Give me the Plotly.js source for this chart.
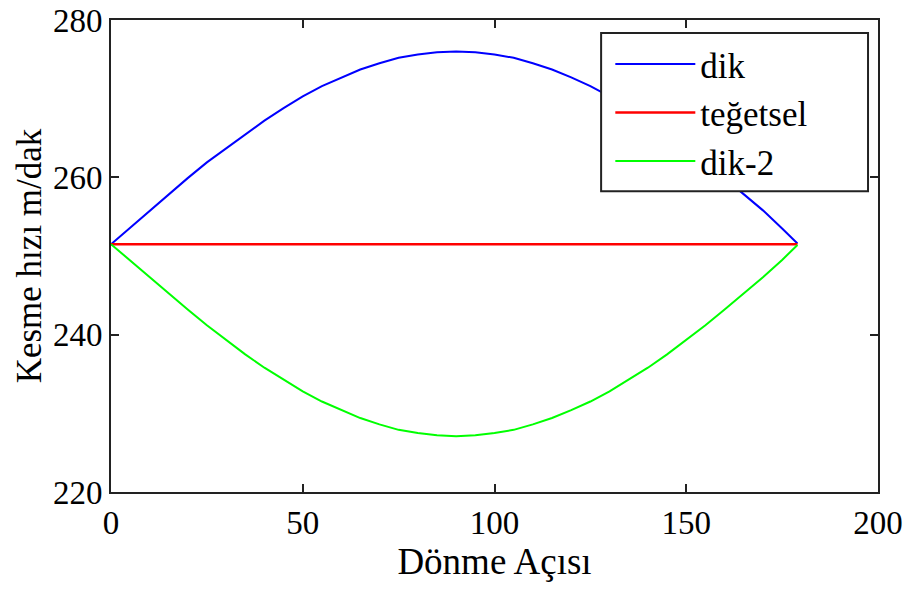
<!DOCTYPE html>
<html>
<head>
<meta charset="utf-8">
<script src="https://cdn.plot.ly/plotly-3.0.1.min.js"></script>
<style>
  html, body { margin: 0; padding: 0; background: #ffffff; }
  #chart { width: 906px; height: 593px; }
  #fontprobe { position: absolute; left: 0; top: 0; font: 33px "Liberation Serif"; color: rgba(0,0,0,0); pointer-events: none; }
</style>
</head>
<body>
<div id="chart"></div>
<div id="fontprobe"></div>
<script>
// Rotation angle (Dönme Açısı), degrees
const angle = [0, 5, 10, 15, 20, 25, 30, 35, 40, 45, 50, 55, 60, 65, 70, 75, 80, 85, 90,
               95, 100, 105, 110, 115, 120, 125, 130, 135, 140, 145, 150, 155, 160, 165, 170, 175, 179];

// Cutting speed m/dak — "dik"
const dik = [251.5, 253.6, 255.8, 257.8, 259.9, 261.9, 263.7, 265.5, 267.2, 268.8, 270.3, 271.6, 272.7,
             273.7, 274.5, 275.2, 275.6, 275.9, 276.0, 275.9, 275.6, 275.2, 274.5, 273.7, 272.7, 271.6,
             270.3, 268.8, 267.2, 265.5, 263.7, 261.9, 259.9, 257.8, 255.8, 253.5, 251.6];

// "teğetsel"
const tegetsel = [251.5, 251.5, 251.5, 251.5, 251.5, 251.5, 251.5, 251.5, 251.5, 251.5, 251.5, 251.5, 251.5,
                  251.5, 251.5, 251.5, 251.5, 251.5, 251.5, 251.5, 251.5, 251.5, 251.5, 251.5, 251.5, 251.5,
                  251.5, 251.5, 251.5, 251.5, 251.5, 251.5, 251.5, 251.5, 251.5, 251.5, 251.5];

// "dik-2"
const dik2 = [251.5, 249.4, 247.3, 245.2, 243.2, 241.2, 239.3, 237.5, 235.8, 234.3, 232.8, 231.5, 230.4,
              229.4, 228.6, 227.9, 227.5, 227.2, 227.1, 227.2, 227.5, 227.9, 228.6, 229.4, 230.4, 231.5,
              232.8, 234.3, 235.8, 237.5, 239.3, 241.2, 243.2, 245.2, 247.3, 249.5, 251.4];

const seriesNames = ['dik', 'teğetsel', 'dik-2'];
const xTicks = [0, 50, 100, 150, 200];
const yTicks = [220, 240, 260, 280];

const serif = 'Liberation Serif';

const traces = [
  { x: angle, y: dik, name: seriesNames[0], mode: 'lines', line: { color: '#0000ff', width: 2 } },
  { x: angle, y: tegetsel, name: seriesNames[1], mode: 'lines', line: { color: '#ff0000', width: 2.5 } },
  { x: angle, y: dik2, name: seriesNames[2], mode: 'lines', line: { color: '#00ff00', width: 2 } }
];

function axisCommon() {
  return {
    showgrid: false,
    zeroline: false,
    showline: true,
    linecolor: '#222222',
    linewidth: 2,
    mirror: 'ticks',
    ticks: 'inside',
    ticklen: 8,
    tickwidth: 2,
    tickcolor: '#222222',
    tickfont: { family: serif, size: 33, color: '#000000' }
  };
}

const layout = {
  width: 906,
  height: 593,
  margin: { l: 111, r: 28, t: 20, b: 101 },
  font: { family: serif, size: 33, color: '#000000' },
  showlegend: true,
  xaxis: Object.assign(axisCommon(), {
    range: [0, 200],
    tickvals: xTicks,
    ticktext: xTicks.map(String),
    title: { text: 'Dönme Açısı', font: { family: serif, size: 37, color: '#000000' }, standoff: 0 }
  }),
  yaxis: Object.assign(axisCommon(), {
    range: [220, 280],
    tickvals: yTicks,
    ticktext: yTicks.map(String),
    title: { text: 'Kesme hızı m/dak', font: { family: serif, size: 35, color: '#000000' }, standoff: 1 }
  }),
  shapes: [
    {
      type: 'rect', xref: 'paper', yref: 'paper', layer: 'above',
      x0: 0.639, x1: 0.987, y0: 0.637, y1: 0.9725,
      fillcolor: '#ffffff',
      line: { color: '#222222', width: 2 }
    }
  ],
  legend: {
    x: 0.651,
    y: 0.969,
    xanchor: 'left',
    yanchor: 'top',
    bgcolor: 'rgba(0,0,0,0)',
    borderwidth: 0,
    itemwidth: 80,
    font: { family: serif, size: 35, color: '#000000' }
  }
};

function draw() {
  return Plotly.newPlot('chart', traces, layout, { displayModeBar: false, staticPlot: true }).then(function () {
    const probe = document.getElementById('fontprobe');
    const info = [];
    document.querySelectorAll('#chart text').forEach(function (t) {
      info.push(getComputedStyle(t).fontFamily);
      try { info.push(t.getBBox().width); } catch (e) {}
    });
    probe.textContent = info.join(' ');
  });
}

const fontsReady = (document.fonts && document.fonts.load)
  ? Promise.all([
      document.fonts.load('33px "Liberation Serif"', '0123456789'),
      document.fonts.load('35px "Liberation Serif"', 'dikteğetsel-2')
    ]).catch(function () {})
  : Promise.resolve();

fontsReady.then(draw);
</script>
</body>
</html>
